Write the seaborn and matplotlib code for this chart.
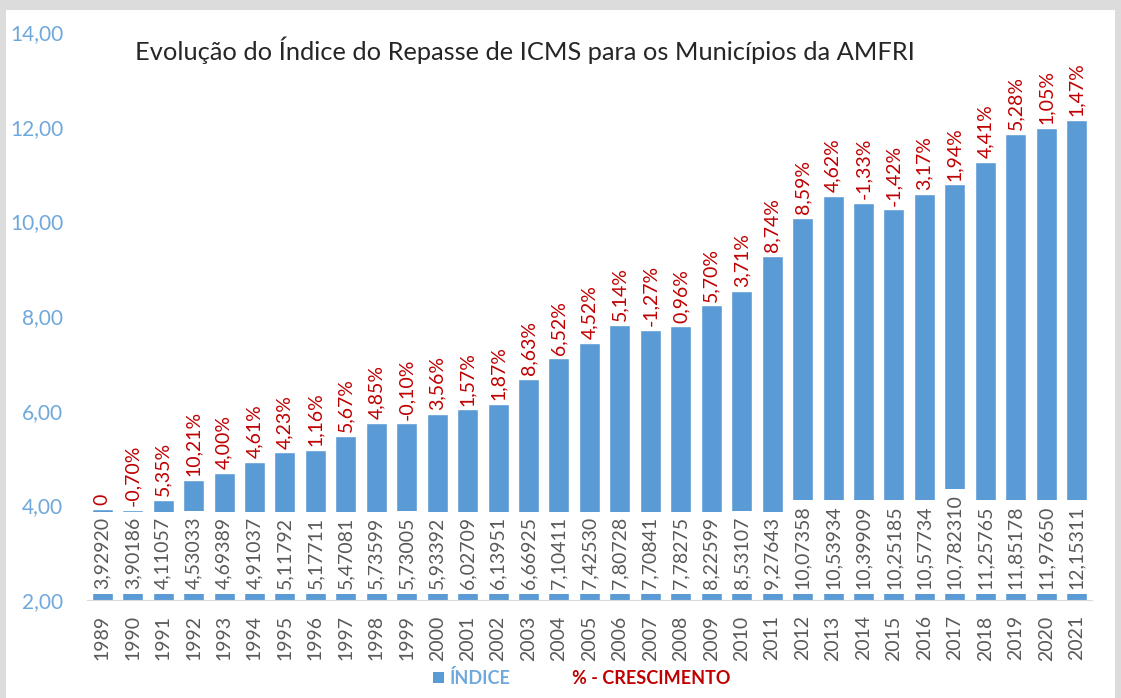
import pandas as pd
import seaborn as sns
import matplotlib
import matplotlib.pyplot as plt
from matplotlib.patches import Patch, Rectangle
from matplotlib.lines import Line2D

matplotlib.use("Agg")

anos = [str(a) for a in range(1989, 2022)]
indice = [3.92920, 3.90186, 4.11057, 4.53033, 4.69389, 4.91037, 5.11792, 5.17711,
          5.47081, 5.73599, 5.73005, 5.93392, 6.02709, 6.13951, 6.66925, 7.10411,
          7.42530, 7.80728, 7.70841, 7.78275, 8.22599, 8.53107, 9.27643, 10.07358,
          10.53934, 10.39909, 10.25185, 10.57734, 10.782310, 11.25765, 11.85178,
          11.97650, 12.15311]
rotulos_indice = ["3,92920", "3,90186", "4,11057", "4,53033", "4,69389", "4,91037",
                  "5,11792", "5,17711", "5,47081", "5,73599", "5,73005", "5,93392",
                  "6,02709", "6,13951", "6,66925", "7,10411", "7,42530", "7,80728",
                  "7,70841", "7,78275", "8,22599", "8,53107", "9,27643", "10,07358",
                  "10,53934", "10,39909", "10,25185", "10,57734", "10,782310",
                  "11,25765", "11,85178", "11,97650", "12,15311"]
crescimento = ["0", "-0,70%", "5,35%", "10,21%", "4,00%", "4,61%", "4,23%", "1,16%",
               "5,67%", "4,85%", "-0,10%", "3,56%", "1,57%", "1,87%", "8,63%", "6,52%",
               "4,52%", "5,14%", "-1,27%", "0,96%", "5,70%", "3,71%", "8,74%", "8,59%",
               "4,62%", "-1,33%", "-1,42%", "3,17%", "1,94%", "4,41%", "5,28%", "1,05%",
               "1,47%"]
yticks = [2, 4, 6, 8, 10, 12, 14]

azul = "#5B9BD5"
vermelho = "#C00000"
cinza = "#595959"

sns.set_style("white")
plt.rcParams["font.family"] = ["Lato", "DejaVu Sans"]

df = pd.DataFrame({"ano": anos, "indice": indice})

fig = plt.figure(figsize=(11.21, 6.98), dpi=100)
fig.patch.set_facecolor("#DCDCDC")
fig.patches.append(Rectangle((0.005, 0.0), 0.99, 0.985, transform=fig.transFigure,
                             facecolor="white", edgecolor="none", zorder=-1))
ax = fig.add_axes([0.0776, 0.1404, 0.8964, 0.8136])
ax.set_facecolor("none")

sns.barplot(data=df, x="ano", y="indice", color=azul, width=0.69, saturation=1, ax=ax)

ax.set_ylim(2, 14)
ax.set_xlim(-0.5, len(anos) - 0.5)
ax.set_yticks(yticks)
ax.set_yticklabels([f"{v:.2f}".replace(".", ",") for v in yticks], color="#6FA8DC",
                   fontsize=15)
ax.tick_params(axis="y", length=0, pad=17)
ax.tick_params(axis="x", length=0, pad=11, labelrotation=90, labelsize=14,
               labelcolor=cinza)
ax.set_xlabel("")
ax.set_ylabel("")
for s in ["left", "right", "top"]:
    ax.spines[s].set_visible(False)
ax.spines["bottom"].set_color("#D9D9D9")

for i, (v, r, c) in enumerate(zip(indice, rotulos_indice, crescimento)):
    ax.text(i, 2.24, r, rotation=90, ha="center", va="bottom", fontsize=14,
            color=cinza, bbox=dict(boxstyle="square,pad=0.25", facecolor="white",
                                   edgecolor="none"))
    ax.text(i, v + 0.08, c, rotation=90, ha="center", va="bottom", fontsize=14,
            color=vermelho)

ax.text(0.436, 0.968, "Evolução do Índice do Repasse de ICMS para os Municípios da AMFRI",
        transform=ax.transAxes, ha="center", va="center", fontsize=18.3, color="#262626")

handles = [Patch(facecolor=azul, edgecolor="none"),
           Line2D([], [], linestyle="none")]
leg = fig.legend(handles, ["ÍNDICE", "% - CRESCIMENTO"], loc="center",
                 bbox_to_anchor=(0.519, 0.0287), ncol=2, frameon=False, fontsize=13,
                 handlelength=0.6, handleheight=0.6, handletextpad=0.3,
                 columnspacing=2.5, prop={"weight": "bold", "size": 13})
leg.get_texts()[0].set_color("#6FA8DC")
leg.get_texts()[1].set_color(vermelho)

fig.savefig("out.png", dpi=100)
